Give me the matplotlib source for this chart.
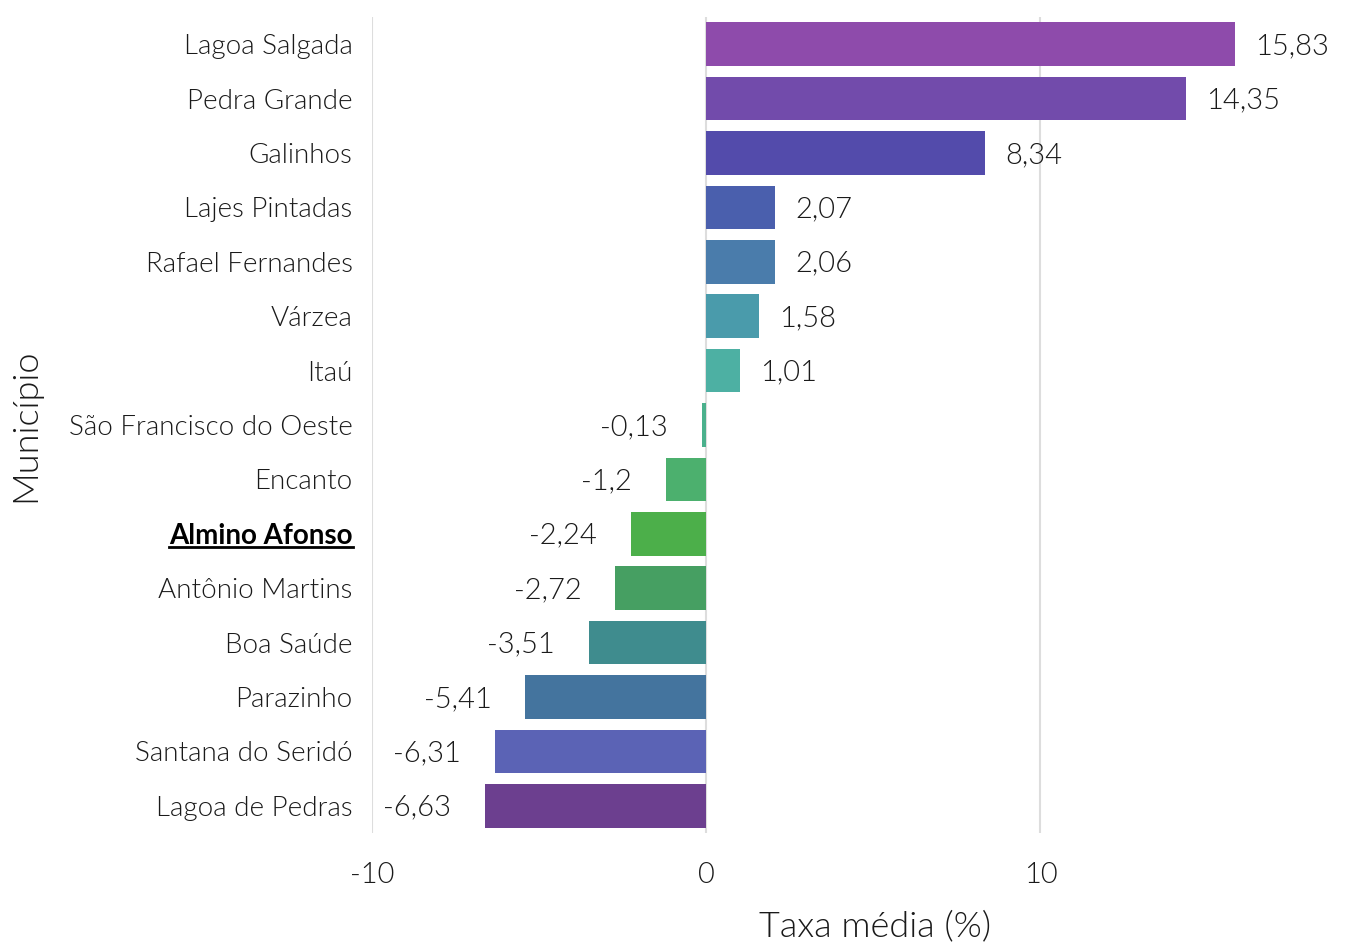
import matplotlib
matplotlib.use("Agg")
import matplotlib.pyplot as plt

plt.rcParams['font.family'] = ['Lato', 'DejaVu Sans']
plt.rcParams['font.weight'] = 300
plt.rcParams['axes.labelweight'] = 300

municipios = ['Lagoa Salgada', 'Pedra Grande', 'Galinhos', 'Lajes Pintadas',
              'Rafael Fernandes', 'Várzea', 'Itaú', 'São Francisco do Oeste',
              'Encanto', 'Almino Afonso', 'Antônio Martins', 'Boa Saúde',
              'Parazinho', 'Santana do Seridó', 'Lagoa de Pedras']
taxas = [15.83, 14.35, 8.34, 2.07, 2.06, 1.58, 1.01, -0.13,
         -1.2, -2.24, -2.72, -3.51, -5.41, -6.31, -6.63]
rotulos = ['15,83', '14,35', '8,34', '2,07', '2,06', '1,58', '1,01', '-0,13',
           '-1,2', '-2,24', '-2,72', '-3,51', '-5,41', '-6,31', '-6,63']
cores = ['#8E4BAB', '#724BAB', '#534BAB', '#4A5FAD', '#4A7CAB', '#4A9BAB',
         '#4DB0A3', '#4AB08C', '#4CB06E', '#4CAF4A', '#469F62', '#3F8C8E',
         '#44749E', '#5B63B5', '#6C3F8F']
destaque = 'Almino Afonso'
cor_texto = '#1a1a1a'

fig = plt.figure(figsize=(13.64, 9.44), dpi=100)
ax = fig.add_axes([372/1364, 1 - 833/944, (1378 - 372)/1364, (833 - 17)/944])

ypos = list(range(len(municipios)))
ax.barh(ypos, taxas, height=0.8, color=cores, zorder=2)
ax.set_ylim(len(municipios) - 0.5, -0.5)
ax.set_xlim(-10, 20.1)

ax.set_xticks([-10, 0, 10])
ax.set_xticklabels(['-10', '0', '10'], fontsize=21, color=cor_texto)
ax.set_yticks(ypos)
ax.set_yticklabels(municipios, fontsize=20, color=cor_texto)
for lab in ax.get_yticklabels():
    if lab.get_text() == destaque:
        lab.set_fontweight('bold')
        lab.set_color('black')
ax.tick_params(axis='y', length=0, pad=14)
ax.tick_params(axis='x', length=0, pad=21)

ax.grid(axis='x', color='#DDDDDD', linewidth=1.5, zorder=0)
ax.set_axisbelow(True)
for s in ax.spines.values():
    s.set_visible(False)

for y, v, t in zip(ypos, taxas, rotulos):
    if v >= 0:
        ax.annotate(t, (v, y), xytext=(20, -2), textcoords='offset pixels',
                    ha='left', va='center', fontsize=21, color=cor_texto)
    else:
        ax.annotate(t, (v, y), xytext=(-34, -2), textcoords='offset pixels',
                    ha='right', va='center', fontsize=21, color=cor_texto)

ax.set_xlabel('Taxa média (%)', fontsize=26, color=cor_texto, labelpad=16)
ax.set_ylabel('Município', fontsize=26, color=cor_texto, labelpad=20)

fig.canvas.draw()
# sublinhado do município em destaque
for lab in ax.get_yticklabels():
    if lab.get_text() == destaque:
        bb = lab.get_window_extent()
        fy = (bb.y0 + 2) / fig.bbox.height
        fig.add_artist(plt.Line2D([bb.x0 / fig.bbox.width, bb.x1 / fig.bbox.width],
                                  [fy, fy], color='black', linewidth=2))

fig.savefig('out.png', dpi=100)
